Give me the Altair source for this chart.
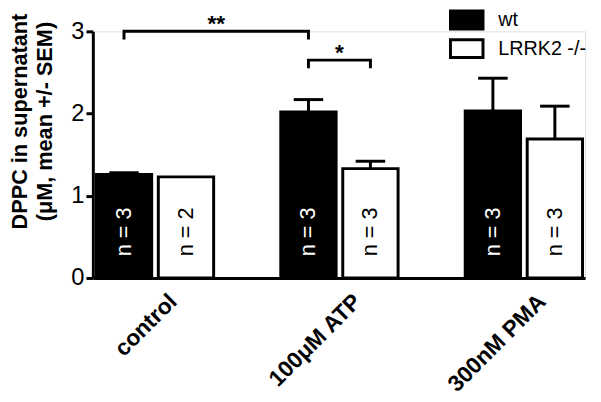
import json
import altair as alt
import pandas as pd

# ---- data ----
categories = ["control", "100μM ATP", "300nM PMA"]
series = ["wt", "LRRK2 -/-"]
wt_mean = [1.26, 2.02, 2.03]
wt_sem = [0.02, 0.15, 0.40]
ko_mean = [1.23, 1.33, 1.69]
ko_sem = [0.0, 0.09, 0.40]
wt_n = [3, 3, 3]
ko_n = [2, 3, 3]

# significance brackets: (group index, series) -> (group index, series)
sig_from_group = [0, 1]
sig_from_series = ["wt", "wt"]
sig_to_group = [1, 1]
sig_to_series = ["wt", "LRRK2 -/-"]
sig_level = [3.0, 2.65]
sig_text = ["**", "*"]

# ---- layout helpers (in x-scale units, one group per unit) ----
HALF = 0.318      # half group width
GAP = 0.018       # half gap between the two bars of a group
CAP = 0.08        # half width of error-bar cap
DROP = 0.10       # bracket leg length (y units)
N_LABEL_Y = 0.56  # y position of the "n = ..." labels

def sign(s):
    return -1 if s == "wt" else 1

def center(g, s):
    return g + sign(s) * (HALF + GAP) / 2

rows = []
for gi, cat in enumerate(categories):
    for s, mean, sem, n in ((series[0], wt_mean[gi], wt_sem[gi], wt_n[gi]),
                            (series[1], ko_mean[gi], ko_sem[gi], ko_n[gi])):
        if s == "wt":
            x0, x1 = gi - HALF, gi - GAP
        else:
            x0, x1 = gi + GAP, gi + HALF
        c = center(gi, s)
        rows.append(dict(category=cat, series=s, x0=x0, x1=x1, xc=c,
                         mean=mean, sem=sem, tip=mean + sem,
                         c0=c - CAP, c1=c + CAP, base=0.0,
                         nlab=f"n = {n}"))
bars = pd.DataFrame(rows)
err = bars[bars["sem"] > 0]

brk = []
txt = []
for i in range(len(sig_level)):
    xa = center(sig_from_group[i], sig_from_series[i])
    xb = center(sig_to_group[i], sig_to_series[i])
    yv = sig_level[i]
    for k, (xx, yy) in enumerate([(xa, yv - DROP), (xa, yv), (xb, yv), (xb, yv - DROP)]):
        brk.append(dict(bid=i, k=k, x=xx, y=yy))
    txt.append(dict(x=(xa + xb) / 2, y=yv, t=sig_text[i]))
brk = pd.DataFrame(brk)
txt = pd.DataFrame(txt)

FONT = "Liberation Sans"
xscale = alt.Scale(domain=[-0.337, 2.332], nice=False, zero=False)
yscale = alt.Scale(domain=[0, 3], nice=False)

label_expr = json.dumps(categories, ensure_ascii=False) + "[datum.value]"

xaxis = alt.Axis(values=[0, 1, 2], labelExpr=label_expr, title=None, ticks=False,
                 grid=False, domainWidth=3, domainColor="black",
                 labelAngle=315, labelAlign="right", labelBaseline="middle",
                 labelFont=FONT, labelFontSize=23, labelFontWeight="bold",
                 labelColor="black", labelPadding=20, labelOffset=18)
yaxis = alt.Axis(values=[0, 1, 2, 3], format="d", grid=False,
                 domainWidth=3, domainColor="black", tickWidth=3, tickSize=7,
                 tickColor="black", labelFont=FONT, labelFontSize=24,
                 labelColor="black", labelPadding=2,
                 title=["DPPC in supernatant", "(μM, mean +/- SEM)"],
                 titleFont=FONT, titleFontSize=22, titleFontWeight="bold",
                 titleColor="black", titleAngle=270, titleX=-84, titleY=91,
                 titleBaseline="top", titleAlign="center", titleLineHeight=25)

bar_layer = alt.Chart(bars).mark_rect(stroke="black", strokeWidth=3).encode(
    x=alt.X("x0:Q", scale=xscale, axis=xaxis),
    x2="x1:Q",
    y=alt.Y("mean:Q", scale=yscale, axis=yaxis),
    y2="base:Q",
    fill=alt.Fill("series:N", sort=series,
                  scale=alt.Scale(domain=series, range=["black", "white"]),
                  legend=alt.Legend(title=None, orient="none", legendX=361, legendY=-26,
                                    padding=0, clipHeight=29,
                                    symbolType="M-1,-0.55L1,-0.55L1,0.55L-1,0.55Z",
                                    symbolSize=1089, symbolStrokeColor="black",
                                    symbolStrokeWidth=3, labelFont=FONT,
                                    labelFontSize=20, labelColor="black",
                                    labelOffset=14, rowPadding=0)),
)

err_v = alt.Chart(err).mark_rule(color="black", strokeWidth=3).encode(
    x="xc:Q", y="mean:Q", y2="tip:Q")
err_c = alt.Chart(err).mark_rule(color="black", strokeWidth=3).encode(
    x="c0:Q", x2="c1:Q", y="tip:Q")

nlab = alt.Chart(bars).mark_text(angle=270, font=FONT, fontSize=22,
                                 align="center", baseline="middle").encode(
    x="xc:Q", y=alt.datum(N_LABEL_Y), text="nlab:N",
    color=alt.when(alt.datum.series == "wt").then(alt.value("white")).otherwise(alt.value("black")),
)

brackets = alt.Chart(brk).mark_line(color="black", strokeWidth=3, strokeJoin="miter").encode(
    x="x:Q", y="y:Q", detail="bid:N", order="k:Q")

stars = alt.Chart(txt).mark_text(font=FONT, fontSize=23, fontWeight="bold",
                                 baseline="alphabetic", align="center", color="black").encode(
    x="x:Q", y="y:Q", text="t:N")

chart = alt.layer(bar_layer, err_v, err_c, nlab, brackets, stars).properties(
    width=499, height=250,
    autosize=alt.AutoSizeParams(type="none"),
    padding={"left": 86, "top": 21, "right": 8, "bottom": 120},
).configure_view(strokeWidth=0).configure(background="white")

chart.save("out.html", embed_options={"renderer": "svg", "actions": False})
